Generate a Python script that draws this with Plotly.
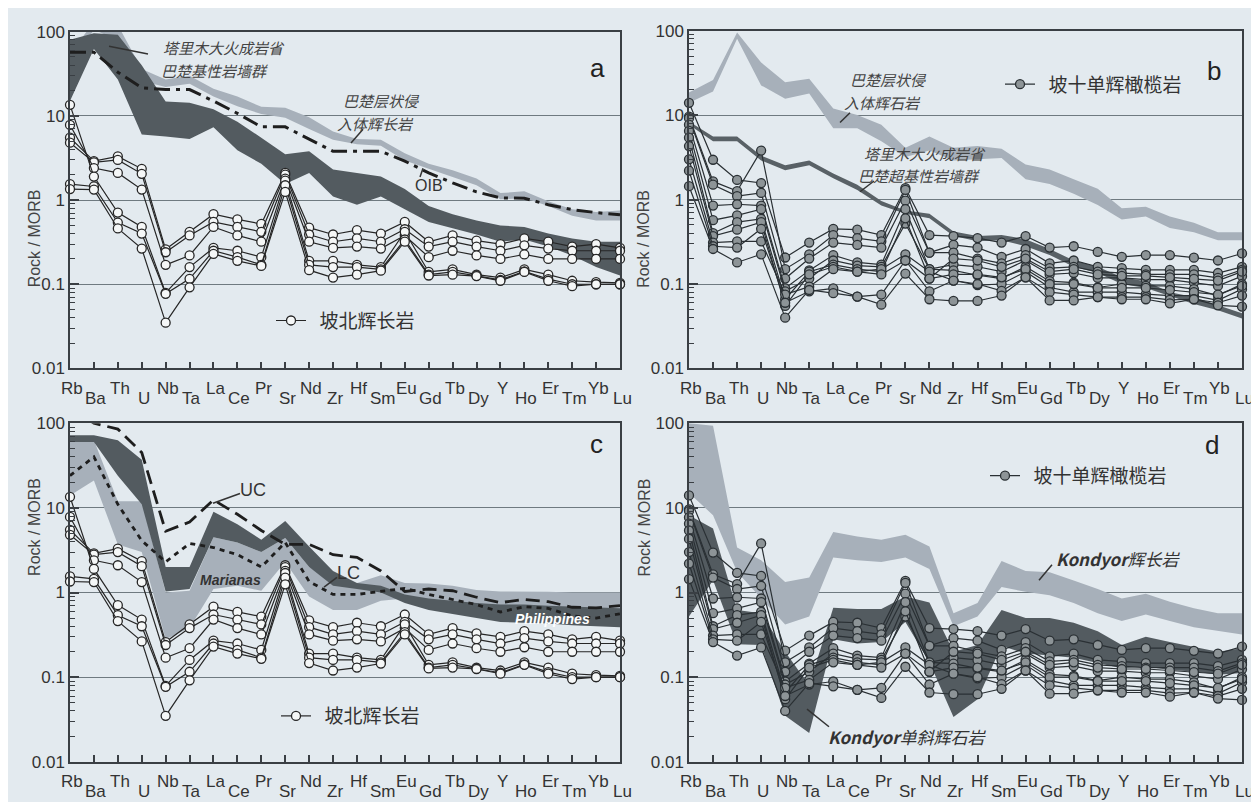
import plotly.graph_objects as go

# ---------------- data ----------------
elements = ["Rb", "Ba", "Th", "U", "Nb", "Ta", "La", "Ce", "Pr", "Sr", "Nd", "Zr",
            "Hf", "Sm", "Eu", "Gd", "Tb", "Dy", "Y", "Ho", "Er", "Tm", "Yb", "Lu"]
ytick_vals = [0.01, 0.1, 1, 10, 100]
ytick_text = ["0.01", "0.1", "1", "10", "100"]

# 坡北辉长岩 (panels a, c)
pobei_1 = [5.5, 2.9, 3.3, 2.35, 0.26, 0.42, 0.68, 0.59, 0.52, 2.1, 0.47, 0.39, 0.44, 0.40, 0.55, 0.32, 0.38, 0.33, 0.30, 0.35, 0.32, 0.28, 0.30, 0.27]
pobei_2 = [4.8, 2.8, 3.0, 2.05, 0.24, 0.38, 0.55, 0.48, 0.42, 2.0, 0.39, 0.32, 0.35, 0.32, 0.45, 0.28, 0.32, 0.28, 0.25, 0.29, 0.265, 0.25, 0.25, 0.25]
pobei_3 = [7.8, 2.4, 2.1, 1.33, 0.17, 0.22, 0.48, 0.38, 0.32, 1.8, 0.32, 0.27, 0.28, 0.265, 0.38, 0.21, 0.25, 0.22, 0.20, 0.226, 0.20, 0.20, 0.20, 0.20]
pobei_4 = [13.5, 1.9, 0.71, 0.48, 0.079, 0.16, 0.27, 0.25, 0.21, 1.7, 0.19, 0.19, 0.17, 0.16, 0.42, 0.14, 0.15, 0.13, 0.12, 0.15, 0.13, 0.11, 0.106, 0.104]
pobei_5 = [1.55, 1.45, 0.54, 0.40, 0.077, 0.116, 0.25, 0.21, 0.17, 1.5, 0.17, 0.16, 0.16, 0.15, 0.34, 0.13, 0.14, 0.127, 0.113, 0.142, 0.115, 0.10, 0.10, 0.10]
pobei_6 = [1.35, 1.33, 0.46, 0.265, 0.035, 0.092, 0.23, 0.19, 0.165, 1.25, 0.147, 0.12, 0.13, 0.145, 0.32, 0.127, 0.13, 0.125, 0.11, 0.14, 0.11, 0.095, 0.10, 0.10]
pobei_samples = [pobei_1, pobei_2, pobei_3, pobei_4, pobei_5, pobei_6]

# 坡十单辉橄榄岩 (panels b, d)
poshi_1 = [14, 2.96, 1.71, 1.57, 0.206, 0.31, 0.45, 0.44, 0.38, 1.37, 0.38, 0.37, 0.35, 0.31, 0.37, 0.27, 0.28, 0.24, 0.21, 0.22, 0.22, 0.205, 0.19, 0.23]
poshi_2 = [9.6, 1.64, 1.26, 3.8, 0.15, 0.225, 0.38, 0.35, 0.32, 1.3, 0.235, 0.29, 0.27, 0.21, 0.26, 0.176, 0.19, 0.16, 0.154, 0.147, 0.147, 0.147, 0.135, 0.16]
poshi_3 = [9.2, 1.5, 1.1, 1.2, 0.116, 0.2, 0.31, 0.29, 0.27, 0.97, 0.235, 0.235, 0.2, 0.176, 0.22, 0.154, 0.16, 0.14, 0.135, 0.13, 0.13, 0.13, 0.118, 0.147]
poshi_4 = [7.7, 0.85, 0.88, 0.85, 0.089, 0.145, 0.22, 0.18, 0.17, 0.77, 0.15, 0.17, 0.16, 0.14, 0.19, 0.13, 0.135, 0.118, 0.118, 0.113, 0.113, 0.104, 0.095, 0.124]
poshi_5 = [6.5, 0.57, 0.65, 0.77, 0.082, 0.116, 0.19, 0.165, 0.16, 0.52, 0.15, 0.145, 0.127, 0.116, 0.16, 0.108, 0.104, 0.091, 0.1, 0.095, 0.095, 0.087, 0.073, 0.1]
poshi_6 = [5.4, 0.40, 0.54, 0.59, 0.066, 0.14, 0.17, 0.15, 0.14, 0.6, 0.116, 0.2, 0.19, 0.16, 0.2, 0.14, 0.15, 0.13, 0.125, 0.125, 0.12, 0.115, 0.11, 0.14]
poshi_7 = [4.3, 0.37, 0.44, 0.54, 0.055, 0.13, 0.16, 0.14, 0.15, 0.225, 0.14, 0.11, 0.097, 0.1, 0.14, 0.091, 0.08, 0.08, 0.08, 0.076, 0.073, 0.073, 0.064, 0.087]
poshi_8 = [3.0, 0.31, 0.32, 0.32, 0.075, 0.093, 0.15, 0.14, 0.13, 0.19, 0.116, 0.13, 0.13, 0.12, 0.15, 0.1, 0.1, 0.09, 0.09, 0.09, 0.085, 0.08, 0.075, 0.095]
poshi_9 = [2.2, 0.28, 0.27, 0.45, 0.06, 0.082, 0.089, 0.071, 0.075, 0.19, 0.082, 0.11, 0.1, 0.083, 0.12, 0.08, 0.075, 0.07, 0.07, 0.07, 0.065, 0.066, 0.06, 0.073]
poshi_10 = [1.44, 0.26, 0.18, 0.225, 0.040, 0.085, 0.078, 0.071, 0.057, 0.133, 0.066, 0.063, 0.063, 0.073, 0.12, 0.064, 0.064, 0.07, 0.066, 0.066, 0.059, 0.066, 0.056, 0.054]
poshi_samples = [poshi_1, poshi_2, poshi_3, poshi_4, poshi_5, poshi_6, poshi_7, poshi_8, poshi_9, poshi_10]

# panel a reference fields
a_dyke_upper = [80, 96, 92, 40, 14.8, 14.3, 12, 8.5, 5.5, 3.5, 3.8, 2.3, 2.1, 1.9, 1.35, 0.85, 0.68, 0.57, 0.5, 0.48, 0.40, 0.35, 0.32, 0.32]
a_dyke_lower = [15, 62, 27, 6.0, 5.7, 5.3, 7.3, 3.9, 2.7, 1.55, 2.1, 1.1, 0.88, 1.1, 0.78, 0.55, 0.46, 0.39, 0.32, 0.34, 0.28, 0.22, 0.16, 0.127]
a_layer_upper = [55, 130, 120, 36, 27, 30, 21, 17, 12.8, 12.5, 9.6, 6.5, 5.3, 5.2, 3.6, 2.7, 2.26, 1.8, 1.21, 1.27, 0.97, 0.78, 0.72, 0.75]
a_layer_lower = [40, 105, 80, 26, 22, 24, 17, 13, 10.5, 9.5, 7.0, 5.2, 4.6, 4.4, 2.95, 2.36, 1.9, 1.5, 1.02, 1.06, 0.85, 0.65, 0.57, 0.57]
a_oib = [57, 57, 33, 21.5, 20.6, 20.5, 15, 10.7, 7.4, 7.4, 5.3, 3.8, 3.8, 3.8, 2.9, 2.1, 1.6, 1.25, 1.06, 1.05, 0.88, 0.77, 0.71, 0.67]

# panel b reference fields
b_layer_upper = [18.5, 26, 95, 42, 24.5, 27, 12, 10, 7.7, 4.1, 5.6, 4.1, 4.3, 4.0, 2.6, 2.27, 1.74, 1.34, 0.79, 0.82, 0.63, 0.53, 0.41, 0.41]
b_layer_lower = [14, 19, 80, 22.5, 15.6, 18, 7.0, 7.0, 4.9, 3.2, 3.8, 2.9, 3.0, 3.1, 1.74, 1.53, 1.17, 0.86, 0.58, 0.63, 0.46, 0.41, 0.33, 0.33]
b_dyke_upper = [8.4, 5.6, 5.6, 3.3, 2.55, 2.9, 2.04, 1.5, 0.96, 0.74, 0.68, 0.42, 0.37, 0.38, 0.34, 0.26, 0.19, 0.16, 0.12, 0.108, 0.08, 0.07, 0.056, 0.045]
b_dyke_lower = [7.7, 4.9, 4.9, 2.9, 2.23, 2.55, 1.79, 1.3, 0.85, 0.68, 0.6, 0.37, 0.32, 0.33, 0.28, 0.22, 0.16, 0.135, 0.10, 0.09, 0.073, 0.058, 0.049, 0.039]

# panel c reference fields
c_dark_upper = [72, 72, 63, 37, 2.0, 2.0, 9.0, 6.4, 4.2, 7.0, 3.5, 1.8, 1.3, 1.2, 0.95, 0.85, 0.8, 0.75, 0.72, 0.72, 0.70, 0.68, 0.66, 0.65]
c_dark_lower = [60, 60, 24, 11, 1.03, 1.1, 4.5, 3.9, 3.0, 4.4, 2.0, 1.2, 1.1, 1.0, 0.75, 0.62, 0.56, 0.5, 0.45, 0.44, 0.43, 0.41, 0.40, 0.39]
c_light_upper = [63, 63, 12, 12, 1.0, 1.05, 4.5, 3.9, 3.0, 4.4, 2.0, 1.3, 1.3, 1.6, 1.3, 1.28, 1.2, 1.07, 1.03, 1.03, 1.02, 1.0, 1.0, 1.0]
c_light_lower = [14, 21, 3.7, 3.0, 0.28, 0.38, 1.1, 1.2, 1.05, 2.3, 0.9, 0.62, 0.62, 0.8, 0.85, 0.75, 0.72, 0.68, 0.65, 0.65, 0.64, 0.63, 0.63, 0.63]
c_uc = [150, 100, 85, 45, 5.3, 6.8, 12.4, 8.4, 5.4, 3.7, 3.7, 2.8, 2.6, 1.8, 1.03, 1.1, 1.05, 0.88, 0.76, 0.83, 0.78, 0.67, 0.66, 0.7]
c_lc = [24, 40, 11, 4.1, 2.3, 3.8, 3.4, 2.8, 2.0, 3.9, 1.35, 0.95, 0.95, 1.03, 1.12, 0.95, 0.82, 0.72, 0.59, 0.68, 0.65, 0.53, 0.5, 0.56]

# panel d reference fields
d_gabbro_upper = [100, 93, 3.4, 2.4, 1.33, 1.5, 5.2, 4.6, 4.2, 4.8, 3.5, 0.57, 0.75, 2.35, 1.8, 1.73, 1.39, 1.1, 0.85, 0.97, 0.78, 0.65, 0.57, 0.57]
d_gabbro_lower = [15, 8.2, 1.75, 0.85, 0.42, 0.52, 2.6, 2.4, 2.3, 2.6, 1.9, 0.4, 0.52, 1.16, 1.02, 0.93, 0.75, 0.57, 0.46, 0.55, 0.46, 0.39, 0.35, 0.32]
d_cpx_upper = [8.2, 5.7, 0.62, 0.57, 0.2, 0.08, 0.66, 0.64, 0.64, 0.9, 0.76, 0.2, 0.24, 0.62, 0.5, 0.5, 0.44, 0.35, 0.24, 0.3, 0.26, 0.23, 0.2, 0.22]
d_cpx_lower = [0.52, 1.4, 0.245, 0.24, 0.035, 0.022, 0.28, 0.25, 0.26, 0.45, 0.15, 0.034, 0.055, 0.235, 0.19, 0.18, 0.17, 0.146, 0.128, 0.134, 0.122, 0.117, 0.107, 0.112]

# ---------------- layout geometry (pixels) ----------------
W, H = 1259, 802
def fx(p):
    return p / W
def fy(p):
    return 1 - p / H

panels = {
    "a": dict(x=(62, 612), y=(15, 360), n=""),
    "b": dict(x=(681, 1234), y=(14, 360), n="2"),
    "c": dict(x=(62, 612), y=(416, 763), n="3"),
    "d": dict(x=(681, 1234), y=(416, 763), n="4"),
}

BG = "#e3eaef"
LIGHT = "#a7b0ba"
DARK = "#535b60"
AXC = "#3a3f44"
TXT = "#333333"
SANS = "Liberation Sans, Arial, sans-serif"
CJK = "Noto Sans CJK SC, sans-serif"

xpos = list(range(len(elements)))
minor_vals = [k * 10.0 ** d for d in range(-2, 2) for k in range(2, 10)]
fig = go.Figure()


def band(upper, lower, color, n):
    fig.add_trace(go.Scatter(
        x=xpos + xpos[::-1], y=upper + lower[::-1], mode="lines",
        fill="toself", fillcolor=color, line=dict(width=0, color=color),
        xaxis="x" + n, yaxis="y" + n, showlegend=False, hoverinfo="skip"))


def refline(vals, dash, n, width=3):
    fig.add_trace(go.Scatter(
        x=xpos, y=vals, mode="lines", line=dict(color="#1e1e1e", width=width, dash=dash),
        xaxis="x" + n, yaxis="y" + n, showlegend=False, hoverinfo="skip"))


def samples(data, name, n, legend, fill, lcol):
    for k, s in enumerate(data):
        fig.add_trace(go.Scatter(
            x=xpos, y=s, mode="lines+markers", name=name,
            line=dict(color=lcol, width=1.2),
            marker=dict(symbol="circle", size=9, color=fill, line=dict(color=lcol, width=1.3)),
            cliponaxis=False, xaxis="x" + n, yaxis="y" + n,
            legend=legend, showlegend=(k == 0)))


# panel a
band(a_layer_upper, a_layer_lower, LIGHT, "")
band(a_dyke_upper, a_dyke_lower, DARK, "")
refline(a_oib, "16px,6px,4px,6px", "")
samples(pobei_samples, "\u00a0\u00a0坡北辉长岩", "", "legend", "#f5f7f7", "#262626")

# panel b
band(b_layer_upper, b_layer_lower, LIGHT, "2")
band(b_dyke_upper, b_dyke_lower, "#596166", "2")
samples(poshi_samples, "\u00a0\u00a0坡十单辉橄榄岩", "2", "legend2", "#8d9497", "#2a3034")

# panel c
band(c_light_upper, c_light_lower, LIGHT, "3")
band(c_dark_upper, c_dark_lower, DARK, "3")
refline(c_uc, "14px,7px", "3", 2.8)
refline(c_lc, "5px,5px", "3", 2.8)
samples(pobei_samples, "\u00a0\u00a0坡北辉长岩", "3", "legend3", "#f5f7f7", "#262626")

# panel d
band(d_gabbro_upper, d_gabbro_lower, LIGHT, "4")
band(d_cpx_upper, d_cpx_lower, DARK, "4")
samples(poshi_samples, "\u00a0\u00a0坡十单辉橄榄岩", "4", "legend4", "#8d9497", "#2a3034")

# ---------------- axes ----------------
layout = dict(width=W, height=H, margin=dict(l=0, r=0, t=0, b=0),
              paper_bgcolor=BG, plot_bgcolor=BG, showlegend=True)
annotations = []
shapes = []

for key, p in panels.items():
    n = p["n"]
    layout["xaxis" + n] = dict(
        domain=[fx(p["x"][0]), fx(p["x"][1])], range=[0, len(elements) - 1],
        anchor="y" + n, tickmode="array", tickvals=xpos, ticktext=[""] * len(elements),
        ticks="inside", ticklen=7, tickwidth=1.5, tickcolor=AXC,
        showgrid=False, zeroline=False, showline=True, mirror=True,
        linecolor=AXC, linewidth=1.5)
    layout["yaxis" + n] = dict(
        domain=[fy(p["y"][1]), fy(p["y"][0])], type="log", range=[-2, 2],
        anchor="x" + n, tickmode="array", tickvals=ytick_vals, ticktext=ytick_text,
        ticks="inside", ticklen=9, tickwidth=1.5, tickcolor=AXC,
        minor=dict(tickmode="array", tickvals=minor_vals, ticks="inside", ticklen=5,
                   tickwidth=1.3, tickcolor=AXC, showgrid=False),
        showgrid=True, gridcolor="#6f7a80", gridwidth=1,
        tickfont=dict(family=SANS, size=17, color=TXT),
        zeroline=False, showline=True, mirror=True, linecolor=AXC, linewidth=1.5)
    # staggered element labels
    for i, el in enumerate(elements):
        annotations.append(dict(
            x=i, xref="x" + n, y=fy(p["y"][1]), yref="paper", text=el,
            showarrow=False, xanchor="center", yanchor="middle",
            xshift=2, yshift=-(20 if i % 2 == 0 else 30),
            font=dict(family=SANS, size=17, color=TXT)))
    # y axis title
    annotations.append(dict(
        x=fx(16 if key in "ac" else 636), y=fy(175 if key in "ab" else 575),
        xref="paper", yref="paper", text="Rock / MORB", textangle=-90,
        showarrow=False, font=dict(family=SANS, size=16, color="#444444")))

# panel letters
for letter, (px, py) in {"a": (589, 35), "b": (1215, 38), "c": (588, 437), "d": (1213, 438)}.items():
    annotations.append(dict(x=fx(px), y=fy(py), xref="paper", yref="paper", text=letter,
                            showarrow=False, font=dict(family=SANS, size=26, color="#222222")))


def label(text, px, py, size=15, color="#444444", anchor="left", family=CJK):
    annotations.append(dict(x=fx(px), y=fy(py), xref="paper", yref="paper", text=text,
                            showarrow=False, xanchor=anchor, yanchor="middle", align="left",
                            font=dict(family=family, size=size, color=color)))


def leader(x0, y0, x1, y1):
    shapes.append(dict(type="line", xref="paper", yref="paper",
                       x0=fx(x0), y0=fy(y0), x1=fx(x1), y1=fy(y1),
                       line=dict(color="#333333", width=1.5)))


# panel a labels
label("<i>塔里木大火成岩省</i>", 153, 31.5)
label("<i>巴楚基性岩墙群</i>", 151, 54.5)
leader(140, 38, 101, 30)
label("<i>巴楚层状侵</i>", 333, 86)
label("<i>入体辉长岩</i>", 327, 109)
leader(355, 115, 343, 129)
label("OIB", 421, 173, size=16, color=TXT, anchor="center", family=SANS)
leader(412, 164, 415, 155)

# panel b labels
label("<i>巴楚层状侵</i>", 840, 64.5)
label("<i>入体辉石岩</i>", 834, 87.5)
leader(842, 98, 832, 108)
label("<i>塔里木大火成岩省</i>", 854, 139.5)
label("<i>巴楚超基性岩墙群</i>", 848, 162.5)
leader(866, 168, 852, 179)

# panel c labels
label("UC", 245, 484, size=18, color=TXT, anchor="center", family=SANS)
leader(232, 488, 205, 498)
label("LC", 340, 569, size=18, color=TXT, anchor="center", family=SANS)
leader(329, 574, 316, 584)
label("<b><i>Marianas</i></b>", 222, 577, size=14, color="#333333", anchor="center", family=SANS)
label("<b><i>Philippines</i></b>", 544, 617, size=14, color="#ffffff", anchor="center", family=SANS)

# panel d labels
label("<b><i>Kondyor</i></b><i>辉长岩</i>", 1046, 555, size=17, color="#333333")
leader(1044, 561, 1031, 577)
label("<b><i>Kondyor</i></b><i>单斜辉石岩</i>", 818, 737, size=17, color="#333333")
leader(821, 727, 799, 709)

# legends
def legend_cfg(px, py):
    return dict(x=fx(px), y=fy(py), xanchor="left", yanchor="middle",
                bgcolor="rgba(0,0,0,0)", borderwidth=0,
                font=dict(family=CJK, size=19, color=TXT))

layout["legend"] = legend_cfg(263, 311)
layout["legend2"] = legend_cfg(992, 69)
layout["legend3"] = legend_cfg(268, 716)
layout["legend4"] = legend_cfg(977, 470)
layout["annotations"] = annotations
layout["shapes"] = shapes

fig.update_layout(**layout)
fig.write_html("out.html")
